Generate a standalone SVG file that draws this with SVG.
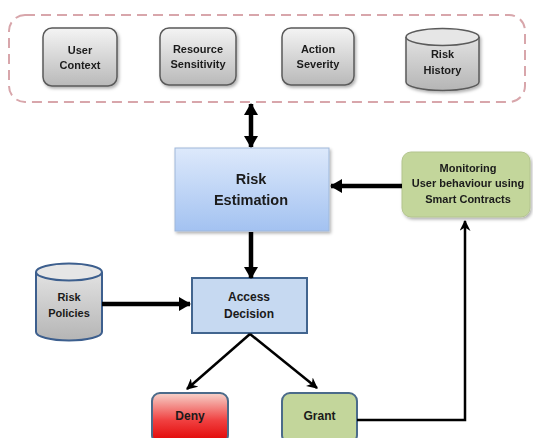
<svg xmlns="http://www.w3.org/2000/svg" width="533" height="438" viewBox="0 0 533 438">
<style>
text{font-family:"Liberation Sans",Arial,sans-serif;font-weight:bold;fill:#1a1a1a;text-anchor:middle}
.t11{font-size:11px}
.t12{font-size:12px}
.t14{font-size:14.5px}
.gray{fill:url(#gGray);stroke:#5a5a5a;stroke-width:1.5}
.thick{stroke:#000;stroke-width:4.5;fill:none}
.thin{stroke:#000;stroke-width:2.5;fill:none}
</style>
<defs>
<linearGradient id="gGray" x1="0" y1="0" x2="0" y2="1"><stop offset="0" stop-color="#f4f4f4"/><stop offset="1" stop-color="#b9b9b9"/></linearGradient>
<linearGradient id="gCylBody" x1="0" y1="0" x2="0" y2="1"><stop offset="0" stop-color="#e2e2e2"/><stop offset="1" stop-color="#b5b5b5"/></linearGradient>
<linearGradient id="gBlue" x1="0" y1="0" x2="0" y2="1"><stop offset="0" stop-color="#dde9fb"/><stop offset="1" stop-color="#a3c2f1"/></linearGradient>
<linearGradient id="gRed" x1="0" y1="0" x2="0" y2="1"><stop offset="0" stop-color="#f6d3cb"/><stop offset="0.55" stop-color="#f04040"/><stop offset="1" stop-color="#e00000"/></linearGradient>
<filter id="sh" x="-20%" y="-20%" width="140%" height="150%"><feDropShadow dx="1.5" dy="2" stdDeviation="1.5" flood-color="#000" flood-opacity="0.3"/></filter>
<marker id="ah" viewBox="0 0 12 14" refX="11" refY="7" markerUnits="userSpaceOnUse" markerWidth="12" markerHeight="14" orient="auto-start-reverse"><path d="M0,0 L12,7 L0,14 z" fill="#000"/></marker>
<marker id="ahs" viewBox="0 0 10 10" refX="9" refY="5" markerUnits="userSpaceOnUse" markerWidth="11" markerHeight="11" orient="auto"><path d="M0,0 L10,5 L0,10 L3,5 z" fill="#000"/></marker>
</defs>
<rect width="533" height="438" fill="#fff"/>

<g id="context-group">
<rect x="9" y="15" width="516" height="87" rx="16" fill="none" stroke="#d8a6ab" stroke-width="2" stroke-dasharray="10,6"/>
</g>

<g id="user-context" filter="url(#sh)">
<rect class="gray" x="43" y="28" width="74" height="58" rx="9"/>
<text class="t11" x="80" y="54">User</text>
<text class="t11" x="80" y="69">Context</text>
</g>

<g id="resource-sensitivity" filter="url(#sh)">
<rect class="gray" x="160" y="28" width="76" height="57" rx="9"/>
<text class="t11" x="198" y="53">Resource</text>
<text class="t11" x="198" y="68">Sensitivity</text>
</g>

<g id="action-severity" filter="url(#sh)">
<rect class="gray" x="282" y="28" width="72" height="57" rx="9"/>
<text class="t11" x="318" y="53">Action</text>
<text class="t11" x="318" y="68">Severity</text>
</g>

<g id="risk-history" filter="url(#sh)">
<path d="M406,37 L406,82 A36.5,8.5 0 0 0 479,82 L479,37" fill="url(#gCylBody)" stroke="#5a5a5a" stroke-width="1.5"/>
<ellipse cx="442.5" cy="37" rx="36.5" ry="8.5" fill="#e6e6e6" stroke="#5a5a5a" stroke-width="1.5"/>
<text class="t11" x="442.5" y="58">Risk</text>
<text class="t11" x="442.5" y="74">History</text>
</g>

<g id="risk-estimation" filter="url(#sh)">
<rect x="175" y="148" width="154" height="83" fill="url(#gBlue)" stroke="#9fb8da" stroke-width="1"/>
<text class="t14" x="251" y="184">Risk</text>
<text class="t14" x="251" y="205">Estimation</text>
</g>

<g id="monitoring" filter="url(#sh)">
<rect x="402" y="152" width="128" height="65" rx="9" fill="#c3d69b" stroke="#b3c48e" stroke-width="1"/>
<text class="t11" x="468" y="172">Monitoring</text>
<text class="t11" x="468" y="187">User behaviour using</text>
<text class="t11" x="468" y="203">Smart Contracts</text>
</g>

<g id="access-decision">
<rect x="192" y="278" width="115" height="55" fill="#c6d9f1" stroke="#42658f" stroke-width="2"/>
<text class="t12" x="249" y="301">Access</text>
<text class="t12" x="249" y="318">Decision</text>
</g>

<g id="risk-policies">
<path d="M36,272 L36,332 A33,8.5 0 0 0 102,332 L102,272" fill="url(#gCylBody)" stroke="#3d5f8e" stroke-width="2"/>
<ellipse cx="69" cy="272" rx="33" ry="8.5" fill="#e6e6e6" stroke="#3d5f8e" stroke-width="2"/>
<text class="t11" x="69" y="301">Risk</text>
<text class="t11" x="69" y="317">Policies</text>
</g>

<g id="deny">
<rect x="152" y="393" width="76" height="50" rx="8" fill="url(#gRed)" stroke="#4b6b8a" stroke-width="2"/>
<text class="t12" x="190" y="420">Deny</text>
</g>

<g id="grant">
<rect x="282" y="393" width="75" height="50" rx="8" fill="#c3d69b" stroke="#4b6b8a" stroke-width="2"/>
<text class="t12" x="319.5" y="420">Grant</text>
</g>

<g id="connectors">
<line class="thick" x1="251" y1="104" x2="251" y2="147" marker-start="url(#ah)" marker-end="url(#ah)"/>
<line class="thick" x1="402" y1="186" x2="331" y2="186" marker-end="url(#ah)"/>
<line class="thick" x1="251" y1="232" x2="251" y2="278" marker-end="url(#ah)"/>
<line class="thick" x1="102" y1="304" x2="190" y2="304" marker-end="url(#ah)"/>
<line class="thin" x1="250" y1="334" x2="187" y2="389" marker-end="url(#ahs)"/>
<line class="thin" x1="250" y1="334" x2="317" y2="388" marker-end="url(#ahs)"/>
<polyline class="thin" points="357,420 465,420 465,221" marker-end="url(#ahs)"/>
</g>
</svg>
